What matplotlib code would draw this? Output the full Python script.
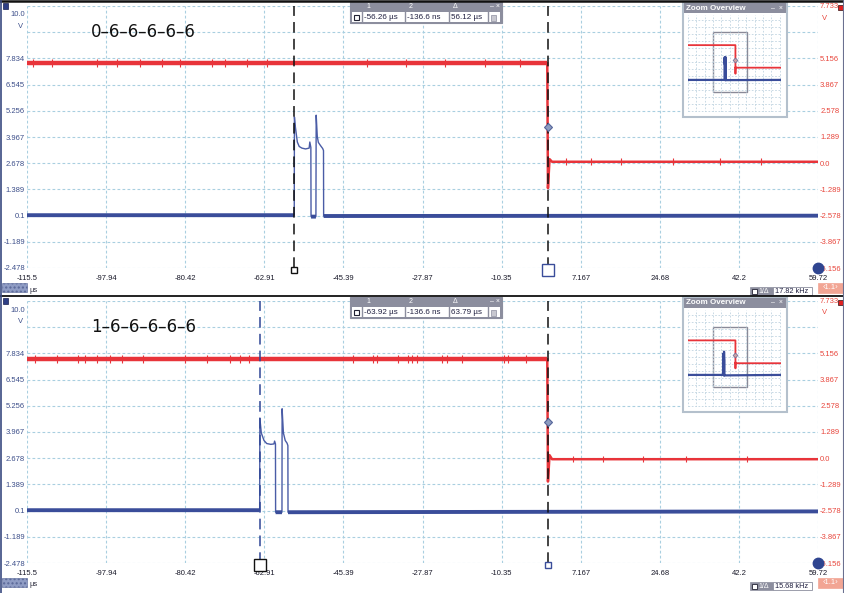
import numpy as np
import matplotlib
matplotlib.use("Agg")
import matplotlib.pyplot as plt
from matplotlib import font_manager
from matplotlib.patches import Rectangle
from matplotlib.lines import Line2D
from matplotlib.transforms import blended_transform_factory

W, H, DPI = 844, 593, 100

# ---------------- data ----------------
x_ticks = [-115.5, -97.94, -80.42, -62.91, -45.39, -27.87, -10.35, 7.167, 24.68, 42.2, 59.72]
x_tick_labels = ["-115.5", "-97.94", "-80.42", "-62.91", "-45.39", "-27.87",
                 "-10.35", "7.167", "24.68", "42.2", "59.72"]
left_ticks = [-2.478, -1.189, 0.1, 1.389, 2.678, 3.967, 5.256, 6.545, 7.834, 9.123, 10.412]
left_labels = ["-2.478", "-1.189", "0.1", "1.389", "2.678", "3.967", "5.256", "6.545", "7.834", "", ""]
right_ticks = [-5.156, -3.867, -2.578, -1.289, 0.0, 1.289, 2.578, 3.867, 5.156, 6.445, 7.733]
right_labels = ["-5.156", "-3.867", "-2.578", "-1.289", "0.0", "1.289", "2.578", "3.867", "5.156", "", ""]

# top panel
top_title = "0\u20136\u20136\u20136\u20136\u20136"
top_blue_t = [-245, -56.30, -56.26, -56.10, -55.62, -55.20, -54.60, -53.80, -53.00, -52.85,
              -52.62, -52.58, -51.50, -51.44, -51.20, -50.96, -50.50, -50.00, -49.82, -49.79, 235]
top_blue_v = [0.12, 0.12, 4.95, 4.55, 3.72, 3.50, 3.42, 3.38, 3.42, 3.72,
              3.45, 0.05, 0.05, 5.04, 4.00, 3.70, 3.55, 3.40, 3.30, 0.08, 0.12]
top_red_t = [-245, -0.25, -0.10, 0.25, 0.80, 235]
top_red_v = [4.91, 4.91, -1.23, 0.20, 0.07, 0.07]
top_red_glitch_t = [-114.17, -109.96, -99.98, -95.54, -90.44, -85.56, -81.57, -74.47,
                    -71.59, -66.71, -62.28, -40.2, -31.5, -22.8, -14.1, -6.4]
top_low_glitch_t = [3.8, 9.5, 16.0, 27.5, 38.0, 47.0]
top_cursors = [-56.26, -0.1366]
top_readout = ["-56.26 \u00b5s", "-136.6 ns", "56.12 \u00b5s"]
top_freq = "17.82 kHz"

# bottom panel
bot_title = "1\u20136\u20136\u20136\u20136\u20136"
bot_blue_t = [-245, -63.96, -63.92, -63.60, -63.00, -62.40, -61.50, -60.80, -60.65, -60.46,
              -60.43, -59.02, -58.99, -58.70, -58.30, -57.90, -57.71, -57.68, 235]
bot_blue_v = [0.12, 0.12, 4.65, 3.92, 3.55, 3.40, 3.36, 3.38, 3.52, 3.38,
              0.02, 0.02, 5.11, 3.92, 3.55, 3.42, 3.30, 0.02, 0.12]
bot_red_t = [-245, -0.25, -0.10, 0.25, 0.80, 235]
bot_red_v = [4.86, 4.86, -1.15, 0.15, -0.05, -0.05]
bot_red_glitch_t = [-113.73, -108.85, -104.19, -102.64, -99.98, -97.09, -94.43, -89.77,
                    -80.46, -75.58, -70.48, -68.26, -66.27, -43.20, -38.77, -37.88,
                    -33.22, -31.0, -30.12, -29.01, -23.47, -22.36, -19.03, -9.94, -9.05, -5.06]
bot_low_glitch_t = [5.5, 12.0, 21.0, 30.5, 44.0]
bot_cursors = [-63.92, -0.1366]
bot_readout = ["-63.92 \u00b5s", "-136.6 ns", "63.79 \u00b5s"]
bot_freq = "15.68 kHz"

cursor_marker_level = 1.78   # right-axis units
overview_xlim = (-245, 235)
overview_ylim = (-6.77, 14.06)

# ---------------- style ----------------
RED = "#e8343a"
BLUE = "#3a4d9a"
BLUE_LBL = "#3d4f8a"
RED_LBL = "#e8463c"
GRID = "#a9cfe0"
_names = {f.name for f in font_manager.fontManager.ttflist}
if "Liberation Sans Narrow" in _names:
    FONT, FS = "Liberation Sans Narrow", 6.3
else:
    FONT, FS = "Liberation Sans", 5.5
RIGHT_OFFSET = left_ticks[0] - right_ticks[0]

fig = plt.figure(figsize=(W / DPI, H / DPI), dpi=DPI)
fig.patch.set_facecolor("white")


def fx(x):
    return x / W


def fy(y):
    return 1 - y / H


def rect(x0, y0, x1, y1, zorder=4, **kw):
    fig.add_artist(Rectangle((fx(x0), fy(y1)), (x1 - x0) / W, (y1 - y0) / H,
                             transform=fig.transFigure, zorder=zorder, **kw))


def text(x, y, s, **kw):
    kw.setdefault("family", FONT)
    kw.setdefault("fontsize", FS)
    kw.setdefault("zorder", 7)
    fig.text(fx(x), fy(y), s, **kw)


def hline(y, x0, x1, **kw):
    fig.add_artist(Line2D([fx(x0), fx(x1)], [fy(y), fy(y)], transform=fig.transFigure,
                          zorder=8, **kw))


def vline(x, y0, y1, zorder=5, **kw):
    fig.add_artist(Line2D([fx(x), fx(x)], [fy(y0), fy(y1)], transform=fig.transFigure,
                          zorder=zorder, **kw))


def panel(y0, y1, title, bt, bv, rt, rv, glitch_t, low_glitch_t, cursors, cursor_colors,
          sq_sizes, sq_colors, readout, freq):
    ax = fig.add_axes([fx(27), fy(y1), (818 - 27) / W, (y1 - y0) / H])
    ax.set_zorder(1)
    ax.set_xlim(x_ticks[0], x_ticks[-1])
    ax.set_ylim(left_ticks[0], left_ticks[-1])
    ax.set_xticks(x_ticks)
    ax.set_xticklabels(x_tick_labels, family=FONT, fontsize=FS, color="#1a1a2a")
    ax.set_yticks(left_ticks)
    ax.set_yticklabels(left_labels, family=FONT, fontsize=FS, color=BLUE_LBL)
    ax.tick_params(axis="x", length=0, pad=5)
    ax.tick_params(axis="y", length=0, pad=1.5)
    ax.grid(True, color=GRID, lw=0.8, ls=(0, (2.5, 2)))
    for s in ax.spines.values():
        s.set_visible(False)

    bt = np.array(bt)
    bv = np.array(bv)
    ax.plot(bt, bv, color="#4a5ca6", lw=1.0, zorder=3)
    ax.plot(bt, np.where(bv < 1, bv, np.nan), color=BLUE, lw=2.8, zorder=3,
            solid_capstyle="butt")

    ax2 = ax.twinx()
    ax2.set_zorder(2)
    ax2.patch.set_visible(False)
    ax2.set_ylim(right_ticks[0], right_ticks[-1])
    ax2.set_yticks(right_ticks)
    ax2.set_yticklabels(right_labels, family=FONT, fontsize=FS, color=RED_LBL)
    ax2.tick_params(axis="y", length=0, pad=1.5)
    for s in ax2.spines.values():
        s.set_visible(False)

    ax2.plot(rt[:2], rv[:2], color=RED, lw=3.2, zorder=3, solid_capstyle="butt")
    ax2.plot(rt[1:], rv[1:], color=RED, lw=1.8, zorder=3)
    ax2.vlines(glitch_t, rv[0] - 0.2, rv[0] + 0.2, color=RED, lw=0.8, zorder=3)
    ax2.vlines(low_glitch_t, rv[-1] - 0.15, rv[-1] + 0.18, color=RED, lw=0.8, zorder=3)

    tr = blended_transform_factory(ax2.transData, ax2.transAxes)
    for c, col, sz, sc in zip(cursors, cursor_colors, sq_sizes, sq_colors):
        ax2.axvline(c, color=col, lw=1.1, ls=(0, (7, 4)), zorder=6)
        ax2.plot([c], [-0.008], transform=tr, marker="s", ms=sz, mfc="white", mec=sc,
                 mew=1.0, clip_on=False, zorder=8)
    ax2.plot([cursors[-1]], [cursor_marker_level], marker="D", ms=4.5, mfc="#8d9cc0",
             mec="#55659a", mew=0.8, zorder=9)
    ax2.plot([x_ticks[-1]], [0], transform=tr, marker="o", ms=7.5, color="#2f4590",
             clip_on=False, zorder=10)

    # title
    text(91, y0 + 26, title, family="DejaVu Sans", fontsize=12, color="#111111",
         va="center", ha="left")

    # axis top labels
    text(25, y0 + 9, "10.0", ha="right", va="center", color=BLUE_LBL)
    text(23, y0 + 20, "V", ha="right", va="center", color=BLUE_LBL)
    text(820, y0 + 0.5, "7.733", ha="left", va="center", color=RED_LBL)
    text(822, y0 + 12, "V", ha="left", va="center", color=RED_LBL)
    rect(3, y0 - 3, 8, y0 + 3, facecolor="#2e3f86", edgecolor="#1a2050", lw=0.5)
    rect(838, y0 - 1.5, 843, y0 + 4, facecolor="#e02020", edgecolor="#301010", lw=0.5)

    # unit and small boxes under axis
    text(29, y1 + 22, "\u00b5s", ha="left", va="center", color="#333344")
    rect(2, y1 + 15, 27, y1 + 24, facecolor="#8f9cc4", edgecolor="#5a6898", lw=0.4,
         hatch="....")
    rect(750, y1 + 19, 773, y1 + 27, facecolor="#8c8e9e", edgecolor="#8c8e9e", lw=0.5)
    rect(773, y1 + 19, 812, y1 + 27, facecolor="white", edgecolor="#8c8e9e", lw=0.6)
    rect(752, y1 + 20.5, 757, y1 + 25.5, facecolor="white", edgecolor="#222233", lw=0.6)
    text(758, y1 + 23, "1/\u0394", ha="left", va="center", color="white", fontsize=5)
    text(775, y1 + 23, freq, ha="left", va="center", color="#202040", fontsize=5.3)
    rect(818, y1 + 15, 843, y1 + 25, facecolor="#f2a594", edgecolor="#f2a594", lw=0.5)
    text(830, y1 + 20, "\u20391.1\u203a", ha="center", va="center", color="white", fontsize=5.5)

    # measurement readout box
    my0, my1, my2 = y0 - 4, y0 + 6, y0 + 17
    rect(350, my0, 502, my2, facecolor="#8c8e9e", edgecolor="#8c8e9e", lw=0.8)
    cols = [362, 405, 449, 488, 500]
    rect(352, my1, 500, my2 - 1, facecolor="white", edgecolor="none")
    for cx in cols[:-1]:
        vline(cx, my0, my2 - 1, color="#8c8e9e", lw=1.0)
    rect(353.5, my1 + 3, 358.5, my1 + 8, zorder=6, facecolor="white", edgecolor="#222233", lw=0.8)
    for cx, lab in zip(cols[:3], ["1", "2", "\u0394"]):
        text(cx + 4, my0 + 5, lab, ha="left", va="center", color="white", fontsize=5)
    text(490, my0 + 5, "\u2013 \u00d7", ha="left", va="center", color="white", fontsize=5)
    for cx, s in zip(cols[:3], readout):
        text(cx + 2, my1 + 5.5, s, ha="left", va="center", color="#202040", fontsize=5.8)
    rect(491, my1 + 3, 496, my1 + 9, zorder=6, facecolor="#c8c8d0", edgecolor="#8c8e9e", lw=0.5)

    # zoom overview window
    ox0, ox1, oy0, oy1 = 683, 787, y0 - 4, y0 + 111
    rect(ox0, oy0, ox1, oy1, facecolor="white", edgecolor="#b4c0cc", lw=1.5)
    rect(ox0 + 1, oy0 + 1, ox1 - 1, oy0 + 11, zorder=5, facecolor="#8c8e9e", edgecolor="none")
    text(ox0 + 3, oy0 + 6, "Zoom Overview", ha="left", va="center", color="white",
         fontsize=5.8, fontweight="bold")
    text(ox1 - 16, oy0 + 6, "\u2013  \u00d7", ha="left", va="center", color="white", fontsize=5)
    axo = fig.add_axes([fx(688), fy(y0 + 106), (781 - 688) / W, 97 / H])
    axo.set_zorder(6)
    axo.patch.set_visible(False)
    axo.set_xlim(*overview_xlim)
    axo.set_ylim(*overview_ylim)
    axo.set_xticks(np.arange(-245, 236, 43))
    axo.set_yticks(np.arange(-6.5, 14.1, 1.5))
    axo.tick_params(length=0, labelbottom=False, labelleft=False)
    axo.grid(True, color="#c0d4e0", lw=0.6, ls=(0, (2, 2)))
    for s in axo.spines.values():
        s.set_visible(False)
    axo.plot(bt, bv, color=BLUE, lw=1.6)
    axo.plot(rt, np.array(rv) + RIGHT_OFFSET, color=RED, lw=1.3)
    axo.add_patch(Rectangle((x_ticks[0], left_ticks[0]), x_ticks[-1] - x_ticks[0],
                            left_ticks[-1] - left_ticks[0], fill=False,
                            edgecolor="#8a8a98", lw=1.0))
    axo.plot([cursors[-1]], [cursor_marker_level + RIGHT_OFFSET], marker="D", ms=2.5,
             mfc="#d0a0a0", mec="#6070a0", mew=0.5)
    return ax, ax2


panel(6, 268, top_title, top_blue_t, top_blue_v, top_red_t, top_red_v,
      top_red_glitch_t, top_low_glitch_t, top_cursors, ["#111111", "#111111"],
      [4, 8], ["#111111", BLUE], top_readout, top_freq)
panel(301, 563, bot_title, bot_blue_t, bot_blue_v, bot_red_t, bot_red_v,
      bot_red_glitch_t, bot_low_glitch_t, bot_cursors, ["#2f4796", "#111111"],
      [8, 4.5], ["#111111", BLUE], bot_readout, bot_freq)

# frame lines
hline(0.8, 0, W, color="#111111", lw=1.8)
hline(296, 0, W, color="#111111", lw=1.3)
vline(0.6, 0, H, zorder=8, color="#3a4a80", lw=1.2)
vline(843.4, 0, H, zorder=8, color="#6a7090", lw=0.8)

fig.savefig("out.png", dpi=DPI, facecolor="white")
